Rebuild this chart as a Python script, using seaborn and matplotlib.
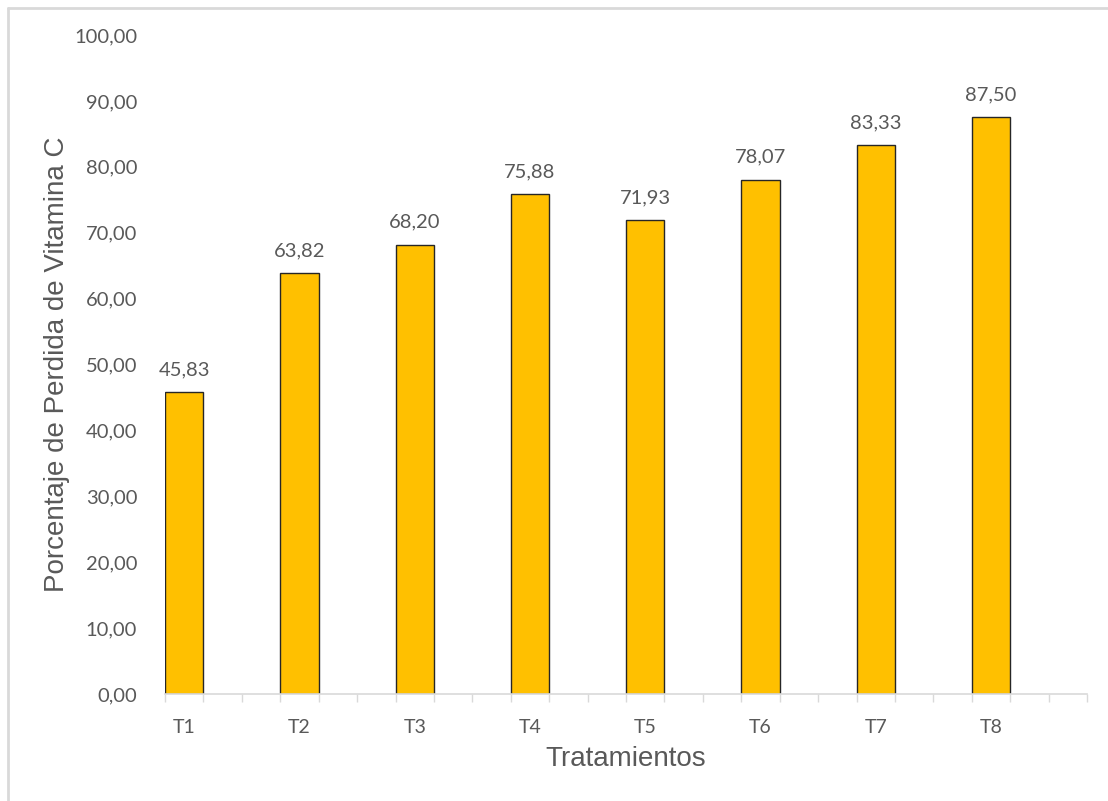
import matplotlib
matplotlib.use("Agg")
import matplotlib.pyplot as plt
import seaborn as sns
import pandas as pd
import numpy as np
from matplotlib.lines import Line2D

treatments = ["T1", "T2", "T3", "T4", "T5", "T6", "T7", "T8"]
values = [45.83, 63.82, 68.20, 75.88, 71.93, 78.07, 83.33, 87.50]
y_ticks = [0, 10, 20, 30, 40, 50, 60, 70, 80, 90, 100]

sns.set_theme(style="white")
plt.rcParams["font.family"] = ["Lato", "DejaVu Sans"]

df = pd.DataFrame({"Tratamiento": treatments, "Valor": values})
order = []
for t in treatments:
    order += [t, t + "_a", t + "_b"]

fig = plt.figure(figsize=(11.08, 8.01), dpi=100)
ax = fig.add_axes([165 / 1108, 1 - 694 / 801, (1087 - 165) / 1108, (694 - 35) / 801])

sns.barplot(data=df, x="Tratamiento", y="Valor", order=order, color="#FFC000",
            width=1.0, edgecolor="#262626", linewidth=1.0, saturation=1, ax=ax)

grey = "#595959"
ax.set_xlim(-0.5, len(order) - 0.5)
ax.set_ylim(0, 100)
pos = [order.index(t) for t in treatments]
ax.set_xticks(pos)
ax.set_xticklabels(treatments, fontsize=14, color=grey)
ax.set_xticks(np.arange(-0.5, len(order), 1.0), minor=True)
ax.tick_params(axis="x", which="major", length=0, pad=18)
ax.tick_params(axis="x", which="minor", length=6, width=1, color="#D9D9D9", bottom=True)
ax.set_yticks(y_ticks)
ax.set_yticklabels([f"{v:.2f}".replace(".", ",") for v in y_ticks], fontsize=14.5, color=grey)
ax.tick_params(axis="y", length=0, pad=20)

for s in ["top", "right", "left"]:
    ax.spines[s].set_visible(False)
ax.spines["bottom"].set_color("#D9D9D9")
ax.spines["bottom"].set_linewidth(1.2)

for p, v in zip(pos, values):
    ax.annotate(f"{v:.2f}".replace(".", ","), (p, v), xytext=(0, 10), textcoords="offset points",
                ha="center", va="bottom", fontsize=14.5, color=grey)

ax.set_xlabel("Tratamientos", fontsize=20, color=grey, family=["Liberation Sans", "DejaVu Sans"], labelpad=7)
ax.set_ylabel("Porcentaje de Perdida de Vitamina C", fontsize=20, color=grey,
              family=["Liberation Sans", "DejaVu Sans"], labelpad=3)

fig.add_artist(Line2D([8 / 1108, 8 / 1108], [0, 1 - 8 / 801], color="#D9D9D9", lw=2, transform=fig.transFigure))
fig.add_artist(Line2D([8 / 1108, 1], [1 - 8 / 801, 1 - 8 / 801], color="#D9D9D9", lw=2, transform=fig.transFigure))

fig.savefig("out.png", dpi=100)
